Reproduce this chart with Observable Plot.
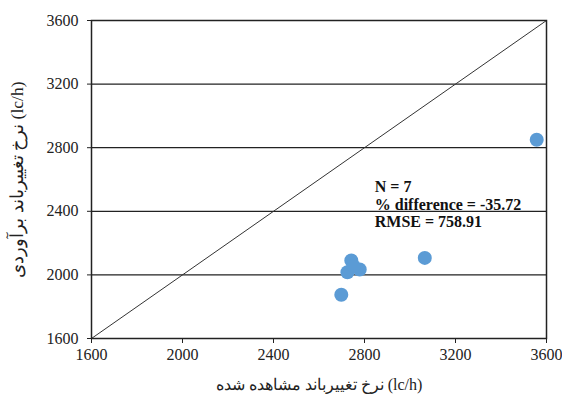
<!DOCTYPE html>
<html>
<head>
<meta charset="utf-8">
<script src="https://cdn.jsdelivr.net/npm/d3@7"></script>
<script src="https://cdn.jsdelivr.net/npm/@observablehq/plot@0.6"></script>
<style>
  html, body { margin: 0; padding: 0; background: #fff; }
  svg text { font-family: "Liberation Serif", "Times New Roman", serif; }
</style>
</head>
<body>
<div id="chart"></div>
<script>
// Observed vs estimated lane-change rate (lc/h)
const observed  = [3557, 3065, 2742, 2779, 2725, 2698, 2752];
const estimated = [2850, 2107, 2091, 2034, 2017, 1875, 2055];
const ticks = [1600, 2000, 2400, 2800, 3200, 3600];
const gridValues = [2000, 2400, 2800, 3200];
const identityLine = [[1600, 1600], [3600, 3600]];
const xTitle = "نرخ تغییرباند مشاهده شده (lc/h)";
const yTitle = "نرخ تغییرباند برآوردی (lc/h)";
const statsText = ["N = 7", "% difference = -35.72", "RMSE = 758.91"];

const points = observed.map((x, i) => ({x, y: estimated[i]}));

const serif = "'Liberation Serif', 'Times New Roman', serif";

const chart = Plot.plot({
  width: 562,
  height: 397,
  marginLeft: 91,
  marginRight: 16,
  marginTop: 20,
  marginBottom: 59,
  style: {fontFamily: serif, background: "#fff"},
  x: {domain: [1600, 3600]},
  y: {domain: [1600, 3600]},
  marks: [
    Plot.ruleY(gridValues, {stroke: "#222", strokeWidth: 1.2}),
    Plot.line(identityLine, {x: d => d[0], y: d => d[1], stroke: "#333", strokeWidth: 1}),
    Plot.frame({stroke: "#222", strokeWidth: 1.5}),
    Plot.axisX({ticks, tickFormat: d => String(d), tickSize: 5, tickPadding: 5, fontSize: 16, label: null, stroke: "#222", fill: "#222"}),
    Plot.axisY({ticks, tickFormat: d => String(d), tickSize: 4, tickPadding: 9, fontSize: 16, label: null, stroke: "#222", fill: "#222"}),
    Plot.dot(points, {x: "x", y: "y", r: 7, fill: "#5b9bd5", stroke: "none"}),
    Plot.text([statsText.join("\n")], {
      x: 2845, y: 2600, text: d => d, textAnchor: "start", lineAnchor: "top",
      fontSize: 16, fontWeight: "bold", lineHeight: 1.1, fill: "#111"
    }),
    Plot.text([xTitle], {frameAnchor: "bottom", dy: 46, text: d => d, fontSize: 16, fill: "#222",
      textAnchor: "middle", lineAnchor: "middle"}),
    Plot.text([yTitle], {frameAnchor: "left", dx: -74, rotate: -90, text: d => d, fontSize: 17.5, fill: "#222",
      textAnchor: "middle", lineAnchor: "middle"})
  ]
});
document.getElementById("chart").appendChild(chart);
</script>
</body>
</html>
